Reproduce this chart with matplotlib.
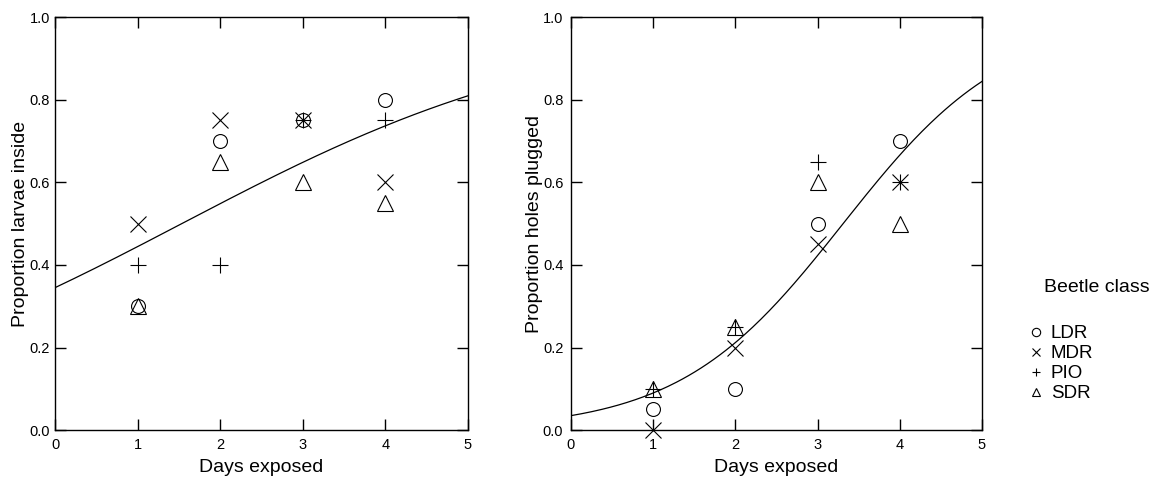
import numpy as np
import matplotlib.pyplot as plt
from matplotlib.lines import Line2D

plt.rcParams['font.family'] = ['Liberation Sans', 'DejaVu Sans']

days = [1, 2, 3, 4]
classes = ["LDR", "MDR", "PIO", "SDR"]

# proportion of larvae found inside, per beetle class
larvae_LDR = [0.30, 0.70, 0.75, 0.80]
larvae_MDR = [0.50, 0.75, 0.75, 0.60]
larvae_PIO = [0.40, 0.40, 0.75, 0.75]
larvae_SDR = [0.30, 0.65, 0.60, 0.55]

# proportion of holes plugged, per beetle class
plugged_LDR = [0.05, 0.10, 0.50, 0.70]
plugged_MDR = [0.00, 0.20, 0.45, 0.60]
plugged_PIO = [0.10, 0.25, 0.65, 0.60]
plugged_SDR = [0.10, 0.25, 0.60, 0.50]

# logistic fits (intercept, slope on logit scale)
fit_larvae = (-0.641, 0.418)
fit_plugged = (-3.317, 1.002)

markers = {"LDR": ("o", 10), "MDR": ("x", 11), "PIO": ("+", 11), "SDR": ("^", 11)}


def logistic(x, b0, b1):
    return 1.0 / (1.0 + np.exp(-(b0 + b1 * x)))


def panel(ax, series, fit, ylabel, ylabel_x, ypad):
    for name, vals in zip(classes, series):
        m, s = markers[name]
        ax.plot(days, vals, linestyle="none", marker=m, markersize=s,
                markerfacecolor="none", markeredgecolor="black",
                markeredgewidth=0.8, clip_on=False)
    xs = np.linspace(0, 5, 200)
    ax.plot(xs, logistic(xs, *fit), color="black", lw=0.9)
    ax.set_xlim(0, 5)
    ax.set_ylim(0, 1)
    ax.set_xticks([0, 1, 2, 3, 4, 5])
    ax.set_yticks([0.0, 0.2, 0.4, 0.6, 0.8, 1.0])
    ax.set_yticklabels(["0.0", "0.2", "0.4", "0.6", "0.8", "1.0"])
    ax.tick_params(direction="in", length=8, width=1, top=True, right=True,
                   labelsize=10.5, colors="black")
    ax.tick_params(axis="x", pad=6)
    ax.tick_params(axis="y", pad=ypad)
    for sp in ax.spines.values():
        sp.set_linewidth(1)
    ax.set_xlabel("Days exposed", fontsize=14, labelpad=5)
    ax.set_ylabel(ylabel, fontsize=14)
    ax.yaxis.set_label_coords(ylabel_x, 0.5)


fig = plt.figure(figsize=(11.61, 4.8), dpi=100)
ax1 = fig.add_axes([0.0474, 0.104, 0.3557, 0.860])
ax2 = fig.add_axes([0.4918, 0.104, 0.3540, 0.860])

panel(ax1, [larvae_LDR, larvae_MDR, larvae_PIO, larvae_SDR], fit_larvae,
      "Proportion larvae inside", -0.062, 3.5)
panel(ax2, [plugged_LDR, plugged_MDR, plugged_PIO, plugged_SDR], fit_plugged,
      "Proportion holes plugged", -0.068, 5.5)

# legend for beetle classes
fig.text(1044 / 1161, 1 - 288 / 480, "Beetle class", fontsize=14,
         ha="left", va="center")
handles = [Line2D([], [], linestyle="none", marker=markers[c][0], markersize=6,
                  markerfacecolor="none", markeredgecolor="black",
                  markeredgewidth=0.8) for c in classes]
fig.legend(handles, classes, loc="upper left",
           bbox_to_anchor=(1017 / 1161, 1 - 316 / 480), frameon=False,
           fontsize=13.5, handlelength=1.0, handletextpad=0.3,
           labelspacing=0.15, borderpad=0)

fig.savefig("out.png", dpi=100)
